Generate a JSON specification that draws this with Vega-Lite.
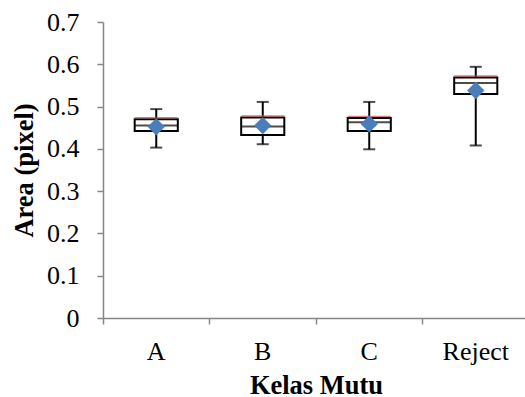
{
  "$schema": "https://vega.github.io/schema/vega-lite/v6.json",
  "autosize": {"type": "none"},
  "padding": {"left": 103, "top": 22, "right": 0, "bottom": 79},
  "width": 426,
  "height": 296,
  "background": "white",
  "config": {"view": {"stroke": null}},
  "data": {"values": [
    {"kelas": "A", "lo": 0.403, "q1": 0.442, "med": 0.455, "q3": 0.470, "hi": 0.494, "mean": 0.452},
    {"kelas": "B", "lo": 0.411, "q1": 0.433, "med": 0.453, "q3": 0.474, "hi": 0.511, "mean": 0.455},
    {"kelas": "C", "lo": 0.399, "q1": 0.442, "med": 0.463, "q3": 0.473, "hi": 0.511, "mean": 0.459},
    {"kelas": "Reject", "lo": 0.408, "q1": 0.530, "med": 0.556, "q3": 0.569, "hi": 0.594, "mean": 0.538}
  ]},
  "encoding": {
    "x": {
      "field": "kelas", "type": "nominal",
      "scale": {"paddingInner": 0, "paddingOuter": 0},
      "axis": {
        "title": "Kelas Mutu", "labelAngle": 0, "bandPosition": 0,
        "domainColor": "#868686", "domainWidth": 1.5, "tickColor": "#868686", "tickWidth": 1.5, "tickSize": 6,
        "labelFont": "Liberation Serif", "labelFontSize": 26, "labelColor": "black", "labelPadding": 14,
        "titleFont": "Liberation Serif", "titleFontSize": 26.5, "titleFontWeight": "bold", "titleColor": "black", "titlePadding": 8
      }
    }
  },
  "layer": [
    {
      "mark": {"type": "rule", "color": "black", "strokeWidth": 2},
      "encoding": {
        "y": {"field": "lo", "type": "quantitative",
          "scale": {"domain": [0, 0.7], "nice": false},
          "axis": {
            "title": "Area (pixel)", "values": [0, 0.1, 0.2, 0.3, 0.4, 0.5, 0.6, 0.7], "format": ".1~f", "grid": false,
            "domainColor": "#868686", "domainWidth": 1.5, "tickColor": "#868686", "tickWidth": 1.5, "tickSize": 6,
            "labelFont": "Liberation Serif", "labelFontSize": 26, "labelColor": "black", "labelPadding": 18,
            "titleFont": "Liberation Serif", "titleFontSize": 26.5, "titleFontWeight": "bold", "titleColor": "black", "titlePadding": 8
          }
        },
        "y2": {"field": "hi"}
      }
    },
    {
      "mark": {"type": "bar", "fill": "white", "stroke": "black", "strokeWidth": 2, "width": {"band": 0.405}},
      "encoding": {"y": {"field": "q1", "type": "quantitative"}, "y2": {"field": "q3"}}
    },
    {
      "mark": {"type": "tick", "color": "#C0504D", "thickness": 1.5, "size": 43, "yOffset": -1.5},
      "encoding": {"y": {"field": "q3", "type": "quantitative"}}
    },
    {
      "mark": {"type": "tick", "color": "black", "thickness": 2, "size": 43},
      "encoding": {"y": {"field": "med", "type": "quantitative"}}
    },
    {
      "mark": {"type": "tick", "color": "black", "thickness": 2, "size": 12},
      "encoding": {"y": {"field": "lo", "type": "quantitative"}}
    },
    {
      "mark": {"type": "tick", "color": "black", "thickness": 2, "size": 12},
      "encoding": {"y": {"field": "hi", "type": "quantitative"}}
    },
    {
      "mark": {"type": "point", "shape": "diamond", "filled": true, "color": "#4A7EBB", "opacity": 1, "size": 300},
      "encoding": {"y": {"field": "mean", "type": "quantitative"}}
    }
  ]
}
